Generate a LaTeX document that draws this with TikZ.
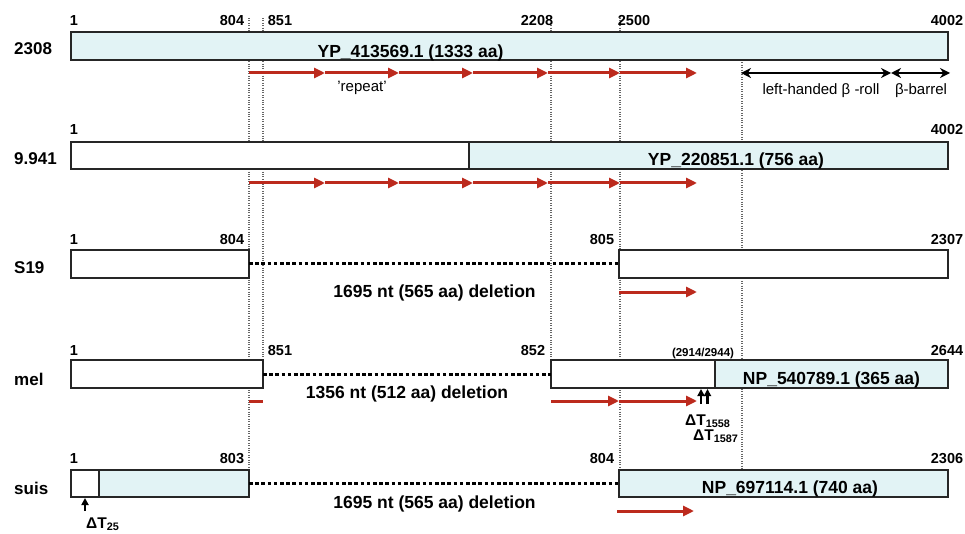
\documentclass[tikz,border=0pt]{standalone}
\usepackage{fontspec}
\setmainfont{Liberation Sans}
\usetikzlibrary{arrows.meta}
\definecolor{lblue}{HTML}{E2F3F5}
\definecolor{rred}{HTML}{BC2A1D}
\begin{document}
\begin{tikzpicture}[x=1pt,y=-1pt,
  box/.style={draw=black!85, line width=2.4pt, inner sep=0pt, outer sep=0pt},
  vguide/.style={draw=black!60, line width=1.1pt, dash pattern=on 1pt off 1.4pt},
  delline/.style={draw=black, line width=3pt, dash pattern=on 3.6pt off 2.6pt},
  redarr/.style={draw=rred, line width=3pt, -{Triangle[length=11pt,width=10pt]}},
  redline/.style={draw=rred, line width=3pt},
  blkarr/.style={draw=black, line width=2.6pt, {Stealth[length=10pt,width=10pt]}-{Stealth[length=10pt,width=10pt]}},
  uparr/.style={draw=black, line width=2.4pt, -{Triangle[length=7pt,width=7pt]}},
  numlab/.style={font=\fontsize{14.5}{16}\selectfont\bfseries, inner sep=0pt, anchor=base},
  rowlab/.style={font=\fontsize{17}{19}\selectfont\bfseries, inner sep=0pt, anchor=base west},
  boxtext/.style={font=\fontsize{17.5}{19}\selectfont\bfseries, inner sep=0pt, anchor=base},
  smalltext/.style={font=\fontsize{15}{17}\selectfont, inner sep=0pt, anchor=base},
  tinytext/.style={font=\fontsize{11.5}{12}\selectfont\bfseries, inner sep=0pt, anchor=base},
  dtext/.style={font=\fontsize{15.5}{17}\selectfont\bfseries, inner sep=0pt, anchor=base west}
]
\useasboundingbox (0,0) rectangle (965,534);

% vertical dotted guides
\coordinate (g1t) at (249,18); \coordinate (g1b) at (249,470);
\coordinate (g2t) at (263,18); \coordinate (g2b) at (263,360);
\coordinate (g3t) at (551,18); \coordinate (g3b) at (551,360);
\coordinate (g4t) at (620,18); \coordinate (g4b) at (620,470);
\coordinate (g5t) at (742,60); \coordinate (g5b) at (742,470);
\draw[vguide] (g1t) -- (g1b);
\draw[vguide] (g2t) -- (g2b);
\draw[vguide] (g3t) -- (g3b);
\draw[vguide] (g4t) -- (g4b);
\draw[vguide] (g5t) -- (g5b);

% ---------- row 1: 2308 ----------
\node[rowlab] (l1) at (14,55) {2308};
\node[box, fill=lblue, minimum width=877pt, minimum height=28pt] (b1) at (509.5,46) {};
\node[boxtext] (t1) at (410.5,57.5) {YP\_413569.1 (1333 aa)};
\node[numlab] (n11) at (74,26) {1};
\node[numlab] (n12) at (232,26) {804};
\node[numlab] (n13) at (280,26) {851};
\node[numlab] (n14) at (537,26) {2208};
\node[numlab] (n15) at (634,26) {2500};
\node[numlab] (n16) at (947,26) {4002};
\foreach \n/\x in {a/249,b/325,c/399,d/473,e/548,f/620,g/697} {
  \coordinate (r1\n) at (\x,73);
  \coordinate (r2\n) at (\x,183);
}
\draw[redarr] (r1a) -- (r1b);
\draw[redarr] (r1b) -- (r1c);
\draw[redarr] (r1c) -- (r1d);
\draw[redarr] (r1d) -- (r1e);
\draw[redarr] (r1e) -- (r1f);
\draw[redarr] (r1f) -- (r1g);
\node[smalltext] (rep) at (362,92) {'repeat'};
\coordinate (k1) at (741,73);
\coordinate (k2) at (891,73);
\coordinate (k3) at (950,73);
\draw[blkarr] (k1) -- (k2);
\draw[blkarr] (k2) -- (k3);
\node[smalltext] (lhb) at (821,95) {left-handed β -roll};
\node[smalltext] (bb) at (921,95) {β-barrel};

% ---------- row 2: 9.941 ----------
\node[rowlab] (l2) at (14,165) {9.941};
\node[box, fill=white, minimum width=398pt, minimum height=27.5pt] (b2a) at (270,155.5) {};
\node[box, fill=lblue, minimum width=479pt, minimum height=27.5pt] (b2b) at (708.5,155.5) {};
\node[boxtext] (t2) at (736,166) {YP\_220851.1 (756 aa)};
\node[numlab] (n21) at (74,135) {1};
\node[numlab] (n22) at (947,135) {4002};
\draw[redarr] (r2a) -- (r2b);
\draw[redarr] (r2b) -- (r2c);
\draw[redarr] (r2c) -- (r2d);
\draw[redarr] (r2d) -- (r2e);
\draw[redarr] (r2e) -- (r2f);
\draw[redarr] (r2f) -- (r2g);

% ---------- row 3: S19 ----------
\node[rowlab] (l3) at (14,273) {S19};
\node[box, fill=white, minimum width=178pt, minimum height=27.5pt] (b3a) at (160,264) {};
\node[box, fill=white, minimum width=329pt, minimum height=27.5pt] (b3b) at (783.5,264) {};
\draw[delline] (b3a.east) -- (b3b.west);
\node[boxtext] (d3) at (434.5,298) {1695 nt (565 aa) deletion};
\node[numlab] (n31) at (74,245) {1};
\node[numlab] (n32) at (232,245) {804};
\node[numlab] (n33) at (602,245) {805};
\node[numlab] (n34) at (947,245) {2307};
\coordinate (r3a) at (619,292);
\coordinate (r3b) at (697,292);
\draw[redarr] (r3a) -- (r3b);

% ---------- row 4: mel ----------
\node[rowlab] (l4) at (14,385) {mel};
\node[box, fill=white, minimum width=192pt, minimum height=28pt] (b4a) at (167,374) {};
\node[box, fill=white, minimum width=164pt, minimum height=28pt] (b4b) at (633,374) {};
\node[box, fill=lblue, minimum width=233pt, minimum height=28pt] (b4c) at (831.5,374) {};
\draw[delline] (b4a.east) -- (b4b.west);
\node[boxtext] (d4) at (407,398) {1356 nt (512 aa) deletion};
\node[boxtext] (t4) at (831.5,384) {NP\_540789.1 (365 aa)};
\node[numlab] (n41) at (74,355) {1};
\node[numlab] (n42) at (280,355) {851};
\node[numlab] (n43) at (533,355) {852};
\node[numlab] (n44) at (947,355) {2644};
\node[tinytext] (n45) at (703,356.5) {(2914/2944)};
\coordinate (r4a) at (249,401);
\coordinate (r4b) at (263,401);
\draw[redline] (r4a) -- (r4b);
\coordinate (r4c) at (551,401);
\coordinate (r4d) at (619,401);
\coordinate (r4e) at (697,401);
\draw[redarr] (r4c) -- (r4d);
\draw[redarr] (r4d) -- (r4e);
\coordinate (u1a) at (701,404);
\coordinate (u1b) at (701,389);
\coordinate (u2a) at (707.5,404);
\coordinate (u2b) at (707.5,389);
\draw[uparr] (u1a) -- (u1b);
\draw[uparr] (u2a) -- (u2b);
\node[dtext] (m1) at (685,425) {ΔT\textsubscript{1558}};
\node[dtext] (m2) at (693,440) {ΔT\textsubscript{1587}};

% ---------- row 5: suis ----------
\node[rowlab] (l5) at (14,494) {suis};
\node[box, fill=white, minimum width=28pt, minimum height=27.5pt] (b5a) at (85,483.5) {};
\node[box, fill=lblue, minimum width=150pt, minimum height=27.5pt] (b5b) at (174,483.5) {};
\node[box, fill=lblue, minimum width=329pt, minimum height=27.5pt] (b5c) at (783.5,483.5) {};
\draw[delline] (b5b.east) -- (b5c.west);
\node[boxtext] (d5) at (434.5,508) {1695 nt (565 aa) deletion};
\node[boxtext] (t5) at (790,493) {NP\_697114.1 (740 aa)};
\node[numlab] (n51) at (74,463) {1};
\node[numlab] (n52) at (232,463) {803};
\node[numlab] (n53) at (602,463) {804};
\node[numlab] (n54) at (947,463) {2306};
\coordinate (r5a) at (617,511);
\coordinate (r5b) at (694,511);
\draw[redarr] (r5a) -- (r5b);
\coordinate (u3a) at (85,511);
\coordinate (u3b) at (85,498);
\draw[uparr] (u3a) -- (u3b);
\node[dtext] (m3) at (86,528) {ΔT\textsubscript{25}};
\end{tikzpicture}
\end{document}
